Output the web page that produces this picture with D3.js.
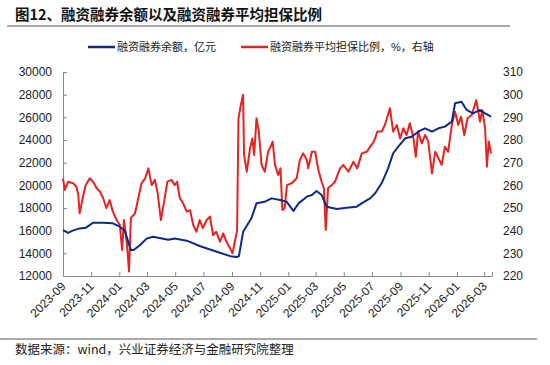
<!DOCTYPE html>
<html><head><meta charset="utf-8">
<script src="https://cdn.jsdelivr.net/npm/d3@7"></script>
<style>
html,body{margin:0;padding:0;background:#fff;}
svg{display:block;font-family:"Liberation Sans","Noto Sans CJK SC",sans-serif;}
</style></head>
<body><svg id="c" width="550" height="365"></svg>
<script>
const title = "图12、融资融券余额以及融资融券平均担保比例";
const source = "数据来源：wind，兴业证券经济与金融研究院整理";
const seriesNames = ["融资融券余额，亿元", "融资融券平均担保比例，%，右轴"];
const xTickLabels = ["2023-09","2023-11","2024-01","2024-03","2024-05","2024-07","2024-09","2024-11","2025-01","2025-03","2025-05","2025-07","2025-09","2025-11","2026-01","2026-03"];
const leftTicks = [12000,14000,16000,18000,20000,22000,24000,26000,28000,30000];
const rightTicks = [220,230,240,250,260,270,280,290,300,310];

const balanceDates = ["2023-09-01","2023-09-12","2023-09-22","2023-10-07","2023-10-20","2023-11-05","2023-11-26","2023-12-18","2024-01-02","2024-01-13","2024-01-21","2024-01-26","2024-02-01","2024-02-15","2024-02-29","2024-03-14","2024-03-28","2024-04-16","2024-04-30","2024-05-26","2024-06-23","2024-07-22","2024-08-28","2024-09-12","2024-09-16","2024-09-25","2024-10-13","2024-10-24","2024-11-11","2024-11-26","2024-12-14","2024-12-28","2025-01-12","2025-01-23","2025-02-10","2025-02-21","2025-03-03","2025-03-14","2025-03-25","2025-04-16","2025-05-07","2025-05-29","2025-06-12","2025-06-27","2025-07-08","2025-07-22","2025-08-05","2025-08-16","2025-08-27","2025-09-11","2025-09-25","2025-10-09","2025-10-24","2025-11-08","2025-11-22","2025-12-06","2025-12-21","2025-12-28","2026-01-11","2026-01-22","2026-02-05","2026-02-20","2026-03-03","2026-03-16"];
const balanceValues = [16050,15800,16000,16200,16250,16700,16700,16650,16350,16000,14900,14300,14300,14735,15300,15470,15350,15200,15300,15120,14650,14250,13750,13680,13750,15900,17090,18410,18560,18850,18700,18560,17740,18410,19000,19150,19500,19150,18115,17910,18030,18115,18500,18850,19300,20180,21500,22830,23410,24150,24290,24730,25030,24730,25030,25180,25620,27240,27380,26650,26350,26650,26350,26060];

const ratioDates = ["2023-09-01","2023-09-05","2023-09-12","2023-09-23","2023-09-30","2023-10-04","2023-10-07","2023-10-15","2023-10-20","2023-10-29","2023-11-05","2023-11-13","2023-11-20","2023-11-27","2023-12-04","2023-12-11","2023-12-18","2023-12-26","2024-01-02","2024-01-07","2024-01-11","2024-01-17","2024-01-22","2024-01-26","2024-02-04","2024-02-11","2024-02-18","2024-02-26","2024-03-04","2024-03-11","2024-03-18","2024-03-24","2024-03-31","2024-04-07","2024-04-14","2024-04-23","2024-04-30","2024-05-05","2024-05-11","2024-05-18","2024-05-26","2024-06-02","2024-06-09","2024-06-16","2024-06-23","2024-06-30","2024-07-08","2024-07-15","2024-07-22","2024-07-29","2024-08-06","2024-08-13","2024-08-20","2024-08-28","2024-09-02","2024-09-07","2024-09-12","2024-09-15","2024-09-20","2024-09-25","2024-09-27","2024-10-03","2024-10-10","2024-10-15","2024-10-19","2024-10-24","2024-10-29","2024-11-04","2024-11-11","2024-11-18","2024-11-22","2024-11-28","2024-12-03","2024-12-10","2024-12-15","2024-12-19","2024-12-24","2024-12-29","2025-01-08","2025-01-19","2025-01-26","2025-02-02","2025-02-10","2025-02-13","2025-02-21","2025-02-28","2025-03-07","2025-03-14","2025-03-19","2025-03-23","2025-03-28","2025-04-05","2025-04-12","2025-04-23","2025-04-30","2025-05-11","2025-05-22","2025-05-30","2025-06-09","2025-06-20","2025-06-27","2025-07-05","2025-07-13","2025-07-22","2025-07-29","2025-08-09","2025-08-16","2025-08-24","2025-08-31","2025-09-07","2025-09-14","2025-09-21","2025-09-29","2025-10-04","2025-10-09","2025-10-17","2025-10-24","2025-10-31","2025-11-08","2025-11-15","2025-11-22","2025-11-29","2025-12-06","2025-12-13","2025-12-21","2025-12-28","2026-01-04","2026-01-10","2026-01-17","2026-01-24","2026-02-02","2026-02-12","2026-02-20","2026-02-25","2026-03-03","2026-03-07","2026-03-11","2026-03-16"];
const ratioValues = [263,258,261.6,260.9,259.4,256,247.7,255.7,260,263.1,261.6,258.7,257.2,254.3,249.9,253.5,248.4,244.7,242.5,231.5,244.7,235.1,222,245.5,247.7,254.3,260.9,263.1,267.5,260.1,262.4,256.5,244.7,252.8,261.6,262.4,260.1,261.6,254.3,252.1,248.4,249.1,242.5,239.5,244.7,241.1,244.7,246.2,238.1,239.5,235.1,238.8,235.1,232.2,230,235.1,240,289.6,295.4,300,273.4,266,276.3,280.7,273.4,289.6,283.7,269,266,274.8,276.3,279.3,269,264.6,267.5,249.1,249.9,260.1,260.9,263.1,271.2,274.1,271.2,267.5,274.8,274.8,266.8,261.6,258.7,240.3,258.7,260.1,261.6,267.5,269,266,270.4,267.5,274.1,274.8,277,279.3,283.7,283.7,286.6,294,283.7,286.6,280.7,285.2,282.2,287.4,280.7,272.6,283.7,278.5,282.2,279.3,265.3,274.8,271.9,269,277,274.8,286.6,292.5,286.6,290.3,282.2,289.6,291,297.6,288.1,293.2,285.2,268.2,279.3,274.1];

const colors = {balance:"#0b2a8a", ratio:"#e52421", axis:"#888", text:"#222"};

const parse = d3.timeParse("%Y-%m-%d");
const parseM = d3.timeParse("%Y-%m");
const svg = d3.select("#c");
const L = 63, R = 492, T = 72, B = 276;

const x = d3.scaleTime().domain([parse("2023-09-01"), parse("2026-03-18")]).range([L, R]);
const yL = d3.scaleLinear().domain([12000, 30000]).range([B, T]);
const yR = d3.scaleLinear().domain([220, 310]).range([B, T]);

// title
svg.append("text").attr("x", 15).attr("y", 20).attr("font-size", 14.5).attr("font-weight", "bold")
  .attr("font-family", "'Noto Sans CJK SC',sans-serif").attr("fill", "#111").text(title);
svg.append("line").attr("x1", 7).attr("x2", 510).attr("y1", 26).attr("y2", 26).attr("stroke", "#555").attr("stroke-width", 1);

// legend
const lg = [{x:88, c:colors.balance, t:seriesNames[0]}, {x:241, c:colors.ratio, t:seriesNames[1]}];
lg.forEach(d => {
  svg.append("line").attr("x1", d.x).attr("x2", d.x + 27).attr("y1", 47).attr("y2", 47).attr("stroke", d.c).attr("stroke-width", 2.5);
  svg.append("text").attr("x", d.x + 29).attr("y", 51).attr("font-size", 11).attr("fill", colors.text).text(d.t);
});

// axes
const gl = svg.append("g").attr("transform", `translate(${L},0)`)
  .call(d3.axisLeft(yL).tickValues(leftTicks).tickSize(-4).tickPadding(11).tickFormat(d3.format("d")));
const gr = svg.append("g").attr("transform", `translate(${R},0)`)
  .call(d3.axisRight(yR).tickValues(rightTicks).tickSize(0).tickPadding(11).tickFormat(d3.format("d")));
gr.select(".domain").remove();
const xt = xTickLabels.map(s => parseM(s));
const gb = svg.append("g").attr("transform", `translate(0,${B})`)
  .call(d3.axisBottom(x).tickValues(xt).tickSize(-4).tickFormat(d3.timeFormat("%Y-%m")));
[gl, gr, gb].forEach(g => {
  g.selectAll(".domain").attr("stroke", colors.axis);
  g.selectAll(".tick line").attr("stroke", colors.axis);
  g.selectAll("text").attr("font-size", 12).attr("fill", colors.text).attr("font-family", "'Liberation Sans',sans-serif");
});
gb.selectAll(".tick text").attr("text-anchor", "end").attr("dy", 0).attr("y", 0)
  .attr("transform", "translate(3,11) rotate(-45)");

// lines
const balance = balanceDates.map((d, i) => ({d: parse(d), v: balanceValues[i]}));
const ratio = ratioDates.map((d, i) => ({d: parse(d), v: ratioValues[i]}));
svg.append("path").datum(ratio).attr("fill", "none").attr("stroke", colors.ratio).attr("stroke-width", 2)
  .attr("stroke-linejoin", "round").attr("d", d3.line().x(p => x(p.d)).y(p => yR(p.v)));
svg.append("path").datum(balance).attr("fill", "none").attr("stroke", colors.balance).attr("stroke-width", 2)
  .attr("stroke-linejoin", "round").attr("d", d3.line().x(p => x(p.d)).y(p => yL(p.v)));

// footer
svg.append("line").attr("x1", 0).attr("x2", 537).attr("y1", 339).attr("y2", 339).attr("stroke", "#555").attr("stroke-width", 1);
svg.append("text").attr("x", 15).attr("y", 354).attr("font-size", 12.5).attr("fill", colors.text)
  .attr("font-family", "'Noto Sans CJK SC',sans-serif").text(source);
</script></body></html>
